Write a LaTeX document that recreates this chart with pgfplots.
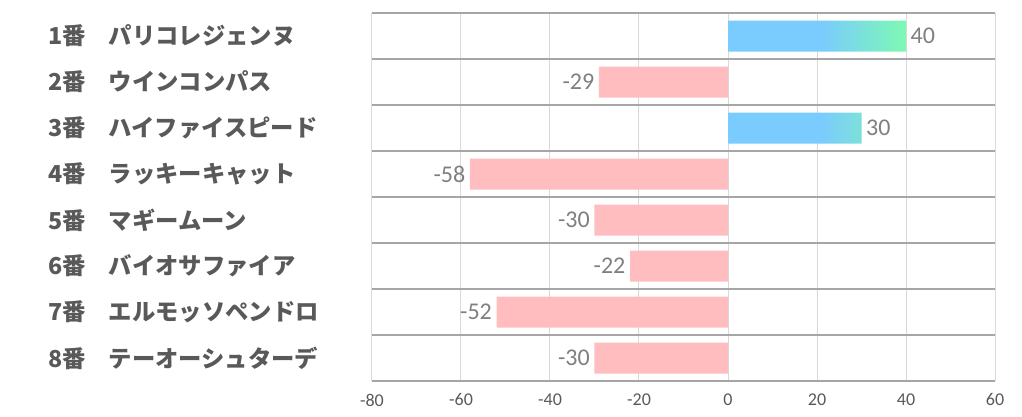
\documentclass[border=0pt]{standalone}
\usepackage{pgfplots}
\pgfplotsset{compat=1.18}
\usepackage{fontspec}
\setmainfont{Carlito}
\newfontfamily\cjk{Noto Sans CJK JP}
\definecolor{barblue}{HTML}{7ACBFE}
\definecolor{bargreen}{HTML}{7DF9B4}
\definecolor{barpink}{HTML}{FFBDC0}
\definecolor{labgray}{HTML}{595959}
\definecolor{datgray}{HTML}{7F7F7F}
\definecolor{hgrid}{HTML}{A6A6A6}
\definecolor{vgrid}{HTML}{D9D9D9}
\pgfdeclarehorizontalshading{bargrad}{100bp}{color(0bp)=(barblue); color(25bp)=(barblue); color(51bp)=(barblue); color(75bp)=(bargreen); color(100bp)=(bargreen)}
\newcommand{\lab}[2]{\makebox[45pt][l]{#1}#2}
\begin{document}
\begin{tikzpicture}
\useasboundingbox (-279pt,-27pt) rectangle (487.5pt,285.75pt);
\begin{axis}[
  at={(0,0)}, anchor=south west,
  scale only axis, width=467.25pt, height=276pt,
  xbar, bar width=23.25pt,
  xmin=-80, xmax=60, xtick={-80,-60,...,60},
  ymin=0.5, ymax=8.5, y dir=reverse,
  ytick={1,...,8},
  yticklabels={\lab{1番}{パリコレジェンヌ},\lab{2番}{ウインコンパス},\lab{3番}{ハイファイスピード},\lab{4番}{ラッキーキャット},\lab{5番}{マギームーン},\lab{6番}{バイオサファイア},\lab{7番}{エルモッソペンドロ},\lab{8番}{テーオーシュターデ}},
  minor ytick={0.5,1.5,...,8.5},
  ymajorgrids=false, yminorgrids=true, xmajorgrids=true,
  minor y grid style={hgrid, line width=0.9pt},
  major x grid style={vgrid, line width=0.75pt},
  axis line style={draw=none},
  major tick length=0pt, minor tick length=0pt,
  tick style={draw=none},
  /pgf/number format/assume math mode=true,
  xticklabel style={font=\fontsize{13.5}{14}\selectfont, text=labgray, yshift=-6pt},
  yticklabel style={anchor=west, xshift=-246pt, font=\cjk\bfseries\fontsize{17.5}{19}\selectfont, text=labgray},
  nodes near coords,
  nodes near coords style={font=\fontsize{18}{19}\selectfont, text=datgray},
]
\addplot[bar shift=0pt, draw=none, shading=bargrad] coordinates {(40,1) (30,3)};
\addplot[bar shift=0pt, draw=none, fill=barpink] coordinates {(-29,2) (-58,4) (-30,5) (-22,6) (-52,7) (-30,8)};
\end{axis}
\end{tikzpicture}
\end{document}
